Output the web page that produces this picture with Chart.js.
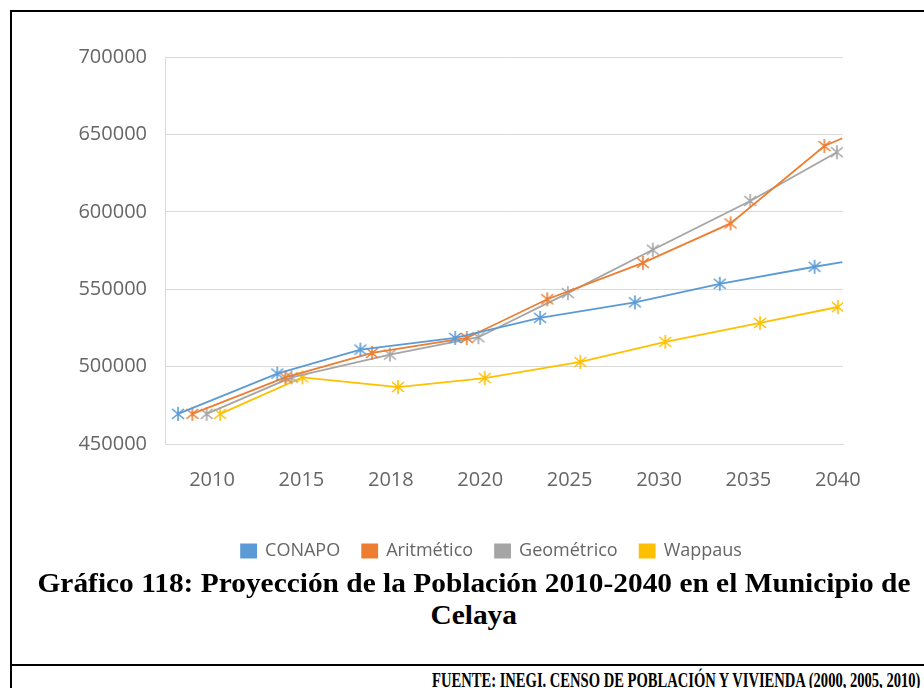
<!DOCTYPE html>
<html>
<head>
<meta charset="utf-8">
<title>Proyección de la Población 2010-2040 Celaya</title>
<script src="https://cdn.jsdelivr.net/npm/chart.js@4.4.0/dist/chart.umd.min.js"></script>
<style>
  html, body { margin: 0; padding: 0; background: #fff; }
  #pagina { position: relative; width: 924px; height: 688px; overflow: hidden; }
  .linha { position: absolute; background: #000; }
  #grafico { position: absolute; left: 0; top: 0; }
  .texto {
    position: absolute;
    font-family: "Liberation Serif", "Times New Roman", serif;
    font-weight: bold;
    color: #000;
    white-space: nowrap;
    transform-origin: center top;
  }
  #titulo1, #titulo2 { font-size: 27px; line-height: 27px; }
  #fonte { font-size: 20px; line-height: 20px; }
</style>
</head>
<body>
<div id="pagina">
  <div class="linha" style="left:10px; top:10px; width:2px; height:678px;"></div>
  <div class="linha" style="left:10px; top:10px; width:914px; height:2px;"></div>
  <div class="linha" style="left:10px; top:664px; width:914px; height:2px;"></div>

  <canvas id="grafico" width="924" height="570"></canvas>

  <div class="texto" id="titulo1" style="top:570px;">Gráfico 118: Proyección de la Población 2010-2040 en el Municipio de</div>
  <div class="texto" id="titulo2" style="top:602px;">Celaya</div>
  <div class="texto" id="fonte" style="top:670px;">FUENTE: INEGI. CENSO DE POBLACIÓN Y VIVIENDA (2000, 2005, 2010)</div>
</div>

<script>
// ================================
//          DADOS
// ================================
const anos = ["2010", "2015", "2018", "2020", "2025", "2030", "2035", "2040"];

// posição x em unidades de categoria (0 = 2010 ... 7 = 2040)
const conapoX = [-0.38, 0.73, 1.66, 2.72, 3.67, 4.73, 5.68, 6.74, 7.05];
const conapoY = [469500, 495500, 511000, 518500, 531500, 541500, 553500, 564500, 567500];

const aritmeticoX = [-0.22, 0.82, 1.79, 2.85, 3.75, 4.82, 5.80, 6.85, 7.05];
const aritmeticoY = [469500, 493000, 508800, 518500, 543500, 567000, 592500, 642500, 647500];

const geometricoX = [-0.06, 0.89, 1.99, 2.98, 3.98, 4.93, 6.02, 6.99];
const geometricoY = [469500, 493000, 507800, 519000, 547500, 575500, 607000, 638500];

const wappausX = [0.09, 1.01, 2.08, 3.05, 4.12, 5.07, 6.13, 7.00];
const wappausY = [469500, 493000, 486800, 492600, 503000, 516000, 528200, 538500];

const yTicks = [450000, 500000, 550000, 600000, 650000, 700000];

// ================================
//        MARCADOR ASTERISCO
// ================================
function marcador(cor) {
  const c = document.createElement("canvas");
  c.width = 16;
  c.height = 16;
  const g = c.getContext("2d");
  g.strokeStyle = cor;
  g.lineWidth = 1.6;
  g.beginPath();
  g.moveTo(2, 3); g.lineTo(14, 13);
  g.moveTo(14, 3); g.lineTo(2, 13);
  g.moveTo(8, 1); g.lineTo(8, 15);
  g.stroke();
  return c;
}

function serie(nome, xs, ys, cor) {
  const img = marcador(cor);
  return {
    label: nome,
    data: xs.map((x, i) => ({ x: x, y: ys[i] })),
    borderColor: cor,
    backgroundColor: cor,
    borderWidth: 1.8,
    tension: 0,
    pointStyle: img,
    // o último vértice sem marcador é só o fim da linha
    pointRadius: (ctx) => (ctx.dataIndex < anos.length ? 7 : 0),
  };
}

const cinzaTexto = "#666666";
const cinzaGrade = "#d9d9d9";

// desloca a legenda para o centro observado na figura
const legendaDeslocada = {
  id: "legendaDeslocada",
  afterLayout(chart) {
    const dx = 31;
    chart.legend.left += dx;
    chart.legend.right += dx;
  },
};

new Chart(document.getElementById("grafico"), {
  type: "line",
  data: {
    datasets: [
      serie("CONAPO", conapoX, conapoY, "#5b9bd5"),
      serie("Aritmético", aritmeticoX, aritmeticoY, "#ed7d31"),
      serie("Geométrico", geometricoX, geometricoY, "#a5a5a5"),
      serie("Wappaus", wappausX, wappausY, "#ffc000"),
    ],
  },
  plugins: [legendaDeslocada],
  options: {
    responsive: false,
    animation: false,
    layout: { padding: { left: 78, right: 81, top: 57, bottom: 0 } },
    plugins: {
      tooltip: { enabled: false },
      legend: {
        position: "bottom",
        labels: {
          boxWidth: 15,
          boxHeight: 13,
          padding: 22,
          color: cinzaTexto,
          font: { family: "'Open Sans', sans-serif", size: 18 },
        },
      },
    },
    scales: {
      x: {
        type: "linear",
        min: -0.526,
        max: 7.058,
        grid: { display: false },
        border: { display: true, color: cinzaGrade },
        afterBuildTicks: (axis) => {
          axis.ticks = anos.map((_, i) => ({ value: i }));
        },
        afterFit: (axis) => {
          axis.height = 76;
        },
        ticks: {
          autoSkip: false,
          maxRotation: 0,
          padding: 16,
          color: cinzaTexto,
          font: { family: "'Open Sans', sans-serif", size: 20 },
          callback: (v) => anos[v] ?? "",
        },
      },
      y: {
        min: 450000,
        max: 700000,
        grid: { color: cinzaGrade, drawTicks: false },
        border: { display: true, color: cinzaGrade },
        afterBuildTicks: (axis) => {
          axis.ticks = yTicks.map((v) => ({ value: v }));
        },
        afterFit: (axis) => {
          axis.width = 87;
        },
        ticks: {
          padding: 18,
          color: cinzaTexto,
          font: { family: "'Open Sans', sans-serif", size: 20 },
          callback: (v) => String(v),
        },
      },
    },
  },
});

// ================================
//     TÍTULO E FONTE (largura)
// ================================
function ajustarTexto(id, centro, largura, escalaFixa) {
  const el = document.getElementById(id);
  const w = el.offsetWidth;
  const s = escalaFixa || largura / w;
  el.style.left = (centro - w / 2) + "px";
  el.style.transform = `scaleX(${s})`;
  return s;
}

const escalaTitulo = ajustarTexto("titulo1", 473.5, 873);
ajustarTexto("titulo2", 473.5, 0, escalaTitulo);
ajustarTexto("fonte", 676, 488);
</script>
</body>
</html>
